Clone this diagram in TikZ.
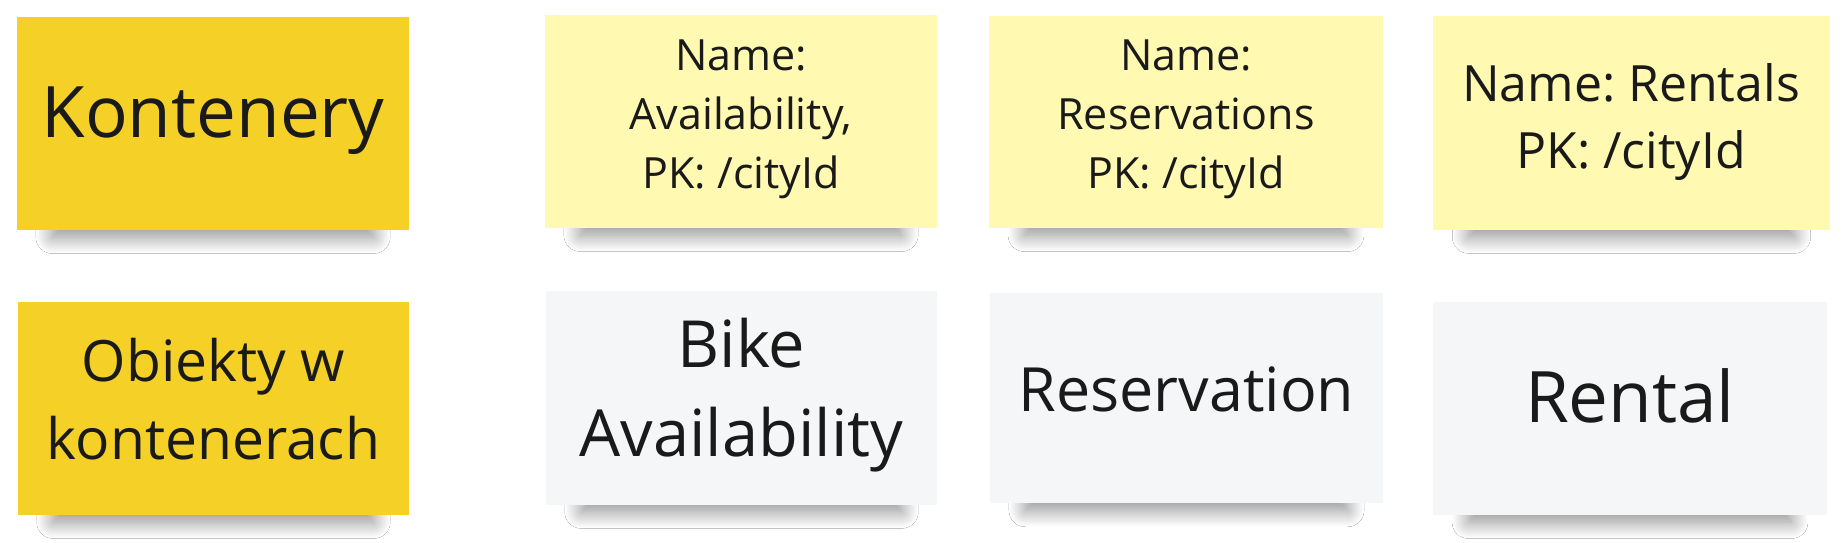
\documentclass[tikz,border=0pt]{standalone}
\usepackage{fontspec}
\setmainfont{Open Sans}
\frenchspacing
\usetikzlibrary{shadows.blur}
\definecolor{noteYellow}{HTML}{F5D128}
\definecolor{noteLight}{HTML}{FFF9B1}
\definecolor{noteGray}{HTML}{F5F6F8}
\definecolor{inkcol}{HTML}{1A1A1A}
\tikzset{
  note/.style={draw=none, inner sep=0pt, outer sep=0pt,
    blur shadow={shadow xshift=0pt, shadow yshift=-32pt, shadow scale=0.82,
      shadow blur radius=20pt, shadow blur steps=25, shadow opacity=45}},
  yellownote/.style={note, fill=noteYellow},
  lightnote/.style={note, fill=noteLight},
  graynote/.style={note, fill=noteGray},
  notetext/.style 2 args={text=inkcol, align=center, inner sep=0pt, font={\fontsize{#1}{#2}\selectfont}},
}
\begin{document}
\begin{tikzpicture}[x=1pt,y=-1pt]
\useasboundingbox[fill=white] (0,0) rectangle (1842,542);
% notes
\node[yellownote, minimum width=392pt, minimum height=213pt] (n1) at (213,123.5) {};
\node[lightnote,  minimum width=392pt, minimum height=213pt] (n2) at (741,121.5) {};
\node[lightnote,  minimum width=394pt, minimum height=212pt] (n3) at (1186,122) {};
\node[lightnote,  minimum width=397pt, minimum height=214pt] (n4) at (1631.5,123) {};
\node[yellownote, minimum width=391pt, minimum height=213pt] (n5) at (213.5,408.5) {};
\node[graynote,   minimum width=391pt, minimum height=214pt] (n6) at (741.5,398) {};
\node[graynote,   minimum width=393pt, minimum height=210pt] (n7) at (1186.5,398) {};
\node[graynote,   minimum width=394pt, minimum height=213pt] (n8) at (1630,408.5) {};
% texts
\node[notetext={71}{97}] (t1) at (213,121) {Kontenery};
\node[notetext={43}{59}] (t2) at (741,119.5) {Name:\\Availability,\\PK: /cityId};
\node[notetext={43}{59}] (t3) at (1186,119.5) {Name:\\Reservations\\PK: /cityId};
\node[notetext={50}{67}] (t4) at (1631,122) {Name: Rentals\\PK: /cityId};
\node[notetext={57}{78}] (t5) at (213.5,399) {Obiekty w\\kontenerach};
\node[notetext={65}{89}] (t6) at (741.5,395.5) {Bike\\Availability};
\node[notetext={61}{84}] (t7) at (1186.5,389) {Reservation};
\node[notetext={71}{97}] (t8) at (1630,396) {Rental};
\end{tikzpicture}
\end{document}
